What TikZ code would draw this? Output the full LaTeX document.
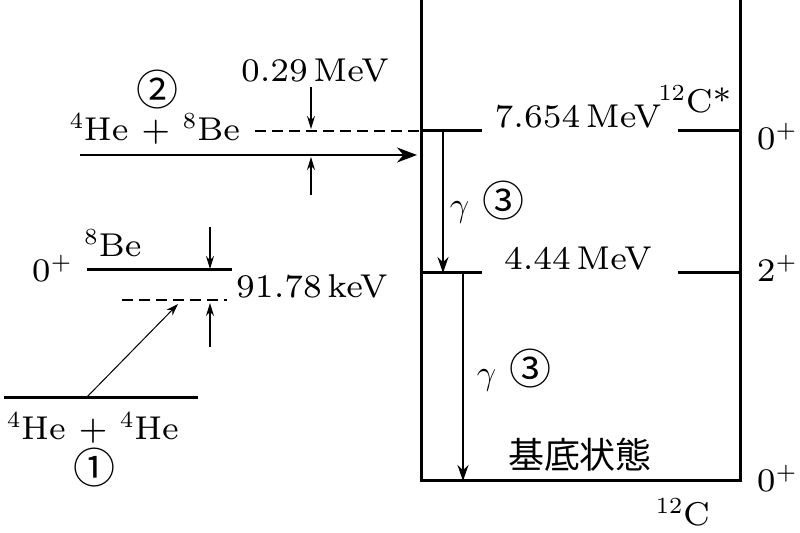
\documentclass[tikz,border=0pt]{standalone}
\usepackage{fontspec}
\setmainfont{lmroman7-regular.otf}
\newfontfamily\cjk{Noto Sans CJK JP}
\usetikzlibrary{arrows.meta}
\begin{document}
\begin{tikzpicture}[x=0.5pt,y=-0.5pt,
    lvl/.style={line width=1.5pt},
    dsh/.style={line width=1.2pt, dash pattern=on 5.5pt off 3pt},
    arr/.style={line width=1pt, -{Stealth[length=8pt,width=5.5pt]}},
    bigarr/.style={line width=1.2pt, -{Stealth[length=10pt,width=7.5pt]}},
    smarr/.style={line width=0.7pt, -{Stealth[length=6.5pt,width=4pt]}},
    thinarr/.style={line width=0.5pt, -{Stealth[length=6pt,width=4pt]}},
    txt/.style={font=\fontsize{16.5}{20}\selectfont, inner sep=0pt},
    circ/.style={font=\fontsize{21}{24}\selectfont\cjk}]
    \useasboundingbox (0,0) rectangle (800,533);
    % 12C box
    \coordinate (tl) at (421,0);
    \coordinate (tr) at (740,0);
    \coordinate (bl) at (421,481);
    \coordinate (br) at (740,481);
    \draw[lvl] (tl) -- (bl) -- (br) -- (tr);
    % levels of 12C
    \coordinate (a1) at (421,131);
    \coordinate (b1) at (740,131);
    \coordinate (a2) at (421,273);
    \coordinate (b2) at (740,273);
    \draw[lvl] (a1) -- ++(61,0);
    \draw[lvl] (b1) -- ++(-62,0);
    \draw[lvl] (a2) -- ++(61,0);
    \draw[lvl] (b2) -- ++(-62,0);
    \node[txt, anchor=base] (e1) at (578,128) {7.654\,MeV};
    \node[txt, anchor=base] (e2) at (578,270) {4.44\,MeV};
    \node[txt, anchor=base] (cs) at (695,113) {\textsuperscript{12}C*};
    \node[txt, anchor=base] (c12) at (683,526) {\textsuperscript{12}C};
    \node[txt, anchor=base] (s1) at (777,150) {0\textsuperscript{+}};
    \node[txt, anchor=base] (s2) at (777,282) {2\textsuperscript{+}};
    \node[txt, anchor=base] (s3) at (777,492) {0\textsuperscript{+}};
    \node[font=\fontsize{18}{21}\selectfont\cjk, inner sep=0pt] (gs) at (580,455) {基底状態};
    % gamma decays
    \coordinate (g1s) at (443,131);
    \coordinate (g1e) at (443,273);
    \coordinate (g2s) at (463,273);
    \coordinate (g2e) at (463,481);
    \draw[arr] (g1s) -- (g1e);
    \draw[arr] (g2s) -- (g2e);
    \node[txt] (g1) at (487,202) {$\gamma$ {\fontsize{21}{24}\selectfont\cjk ③}};
    \node[txt] (g2) at (514,370) {$\gamma$ {\fontsize{21}{24}\selectfont\cjk ③}};
    % 4He + 8Be
    \coordinate (d1) at (255,131);
    \draw[dsh] (d1) -- (a1);
    \coordinate (p1) at (80,155);
    \coordinate (p2) at (417,155);
    \draw[bigarr] (p1) -- (p2);
    \node[txt, anchor=base] (he8) at (155,141) {\textsuperscript{4}He + \textsuperscript{8}Be};
    \node[circ] (n2) at (157,90) {②};
    \node[txt, anchor=base] (q1) at (315,82) {0.29\,MeV};
    \coordinate (u1) at (311,87);
    \coordinate (u2) at (311,129);
    \coordinate (u3) at (311,195);
    \coordinate (u4) at (311,157);
    \draw[smarr] (u1) -- (u2);
    \draw[smarr] (u3) -- (u4);
    % 8Be
    \coordinate (b8l) at (87,270);
    \coordinate (b8r) at (232,270);
    \draw[lvl] (b8l) -- (b8r);
    \node[txt, anchor=base] (be8) at (113,257) {\textsuperscript{8}Be};
    \node[txt, anchor=base] (j1) at (52,282) {0\textsuperscript{+}};
    \coordinate (d2) at (122,300);
    \coordinate (d3) at (227,300);
    \draw[dsh] (d2) -- (d3);
    \coordinate (v1) at (210,227);
    \coordinate (v2) at (210,269);
    \coordinate (v3) at (210,347);
    \coordinate (v4) at (210,303);
    \draw[smarr] (v1) -- (v2);
    \draw[smarr] (v3) -- (v4);
    \node[txt, anchor=base] (q2) at (312,298) {91.78\,keV};
    % 4He + 4He
    \coordinate (h1) at (4,398);
    \coordinate (h2) at (198,398);
    \draw[lvl] (h1) -- (h2);
    \coordinate (t1) at (86,398);
    \coordinate (t2) at (178,304);
    \draw[thinarr] (t1) -- (t2);
    \node[txt, anchor=base] (he4) at (93,440) {\textsuperscript{4}He + \textsuperscript{4}He};
    \node[circ] (n1) at (95,468) {①};
\end{tikzpicture}
\end{document}
